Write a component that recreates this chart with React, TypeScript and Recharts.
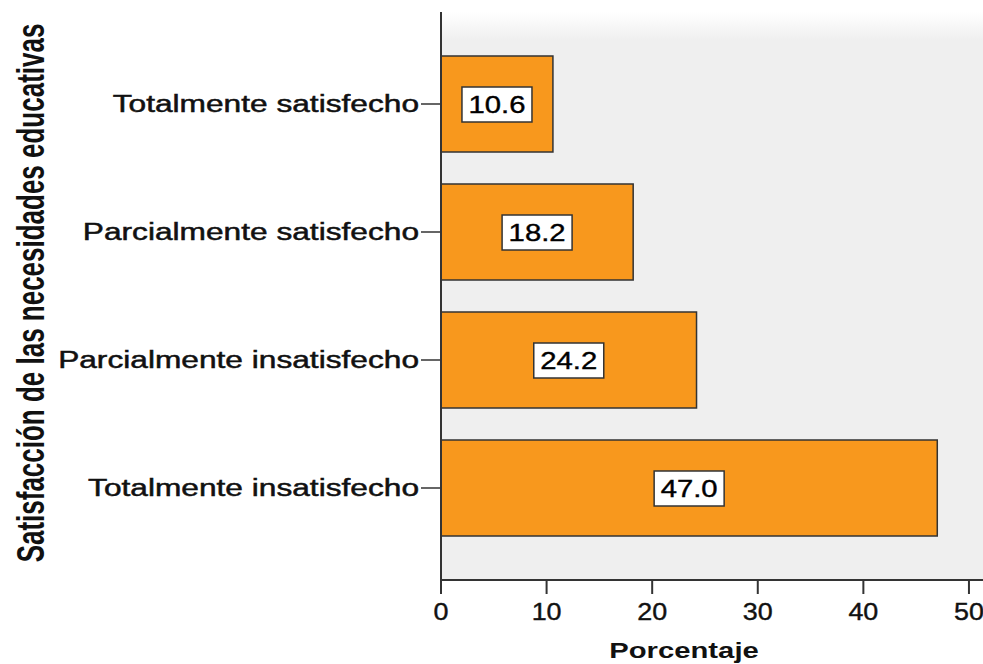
import { BarChart, Bar, XAxis, YAxis, CartesianGrid, LabelList } from 'recharts';

const categories = [
  'Totalmente satisfecho',
  'Parcialmente satisfecho',
  'Parcialmente insatisfecho',
  'Totalmente insatisfecho',
];
const percentages = [10.6, 18.2, 24.2, 47.0];
const xTicks = [0, 10, 20, 30, 40, 50];

const data = categories.map((name, i) => ({ name, value: percentages[i] }));

const FONT = '"Liberation Sans", Arial, sans-serif';

const YTick = ({ x, y, payload }: any) => (
  <text
    transform={`translate(${x},${y}) scale(1.32,1)`}
    textAnchor="end"
    dy={8}
    fontSize={24}
    fontFamily={FONT}
    fill="#111"
    stroke="#111"
    strokeWidth={0.5}
  >
    {payload.value}
  </text>
);

const XTick = ({ x, y, payload }: any) => (
  <text
    transform={`translate(${x},${y}) scale(1.12,1)`}
    textAnchor="middle"
    dy={24}
    fontSize={24}
    fontFamily={FONT}
    fill="#111"
    stroke="#111"
    strokeWidth={0.4}
  >
    {payload.value}
  </text>
);

const ValueBox = ({ x, y, width, height, value }: any) => {
  const cx = x + width / 2;
  const cy = y + height / 2;
  return (
    <g>
      <rect x={cx - 35} y={cy - 17} width={70} height={35} fill="#fff" stroke="#333" strokeWidth={1.5} />
      <text
        transform={`translate(${cx},${cy}) scale(1.22,1)`}
        textAnchor="middle"
        dy={9}
        fontSize={24}
        fontFamily={FONT}
        fill="#000"
        stroke="#000"
        strokeWidth={0.4}
      >
        {Number(value).toFixed(1)}
      </text>
    </g>
  );
};

export default function App() {
  return (
    <div style={{ position: 'absolute', left: 0, top: 0, background: '#fff' }}>
      <BarChart
        width={983}
        height={664}
        data={data}
        layout="vertical"
        margin={{ top: 12, right: 0, bottom: 0, left: 0 }}
      >
        <defs>
          <linearGradient id="plotBg" x1="0" y1="0" x2="0" y2="1">
            <stop offset="0%" stopColor="#ffffff" />
            <stop offset="5%" stopColor="#efefef" />
            <stop offset="100%" stopColor="#efefef" />
          </linearGradient>
        </defs>
        <CartesianGrid horizontal={false} vertical={false} fill="url(#plotBg)" />
        <XAxis
          type="number"
          domain={[0, 51.33]}
          ticks={xTicks}
          allowDataOverflow
          height={84}
          tickSize={14}
          tickMargin={2}
          axisLine={{ stroke: '#333', strokeWidth: 2 }}
          tickLine={{ stroke: '#333', strokeWidth: 2 }}
          tick={<XTick />}
          label={{
            content: () => (
              <text
                transform="translate(684,658) scale(1.33,1)"
                textAnchor="middle"
                fontSize={22}
                fontWeight="bold"
                fontFamily={FONT}
                fill="#111"
              >
                Porcentaje
              </text>
            ),
          }}
        />
        <YAxis
          type="category"
          dataKey="name"
          width={441}
          padding={{ top: 28, bottom: 28 }}
          tickSize={20}
          tickMargin={2}
          axisLine={{ stroke: '#333', strokeWidth: 2 }}
          tickLine={{ stroke: '#333', strokeWidth: 1.5 }}
          tick={<YTick />}
          label={{
            content: () => (
              <text
                transform="translate(30,293) scale(1.5,1) rotate(-90)"
                textAnchor="middle"
                dy={9}
                fontSize={26}
                fontWeight="bold"
                fontFamily={FONT}
                fill="#111"
              >
                Satisfacción de las necesidades educativas
              </text>
            ),
          }}
        />
        <Bar dataKey="value" fill="#f8981d" stroke="#333" strokeWidth={1.5} barSize={96} isAnimationActive={false}>
          <LabelList dataKey="value" content={<ValueBox />} />
        </Bar>
      </BarChart>
    </div>
  );
}
